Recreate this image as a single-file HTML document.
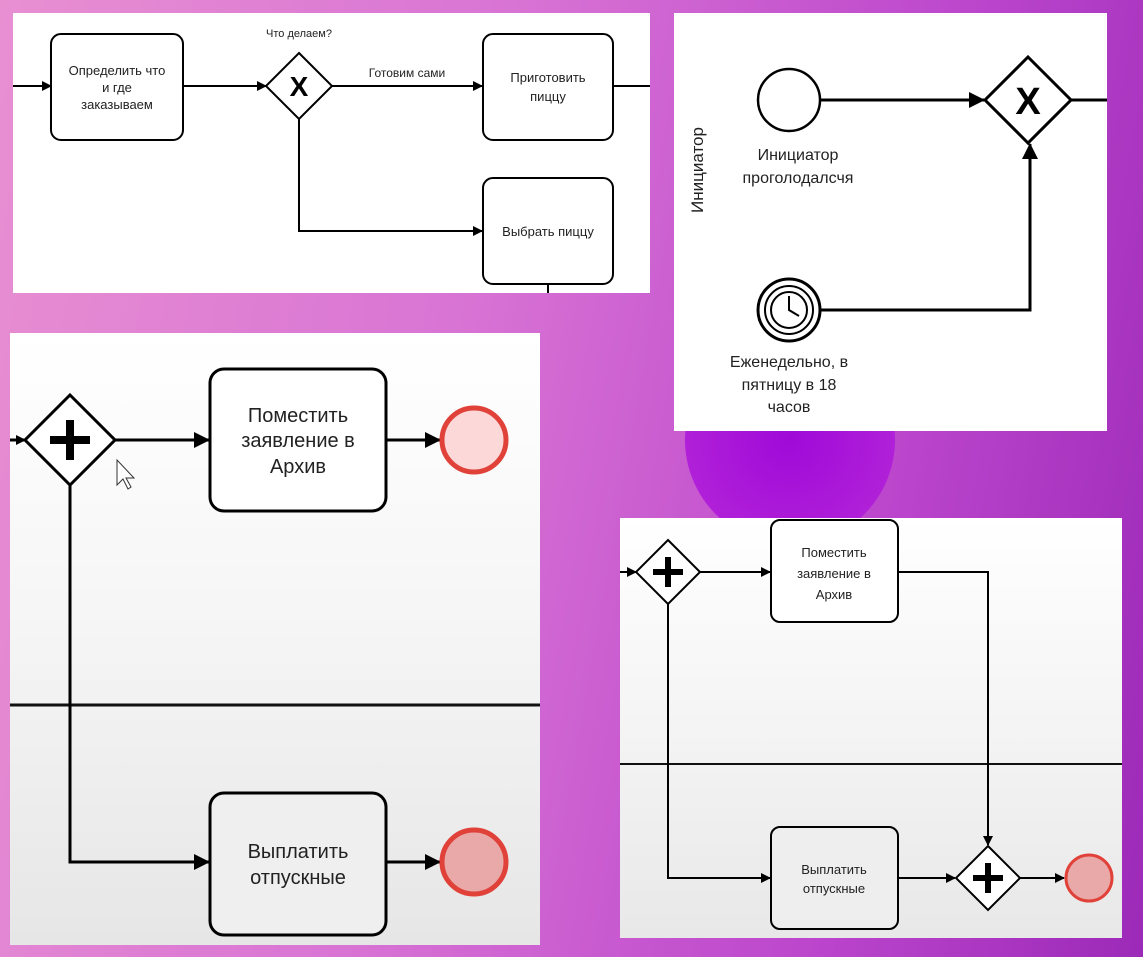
<!DOCTYPE html>
<html><head><meta charset="utf-8"><style>
html,body{margin:0;padding:0;width:1143px;height:957px;overflow:hidden}
body{background:linear-gradient(100deg,#e88fd2 0%,#d873d4 40%,#bb45cc 75%,#9c2ab8 100%)}
svg{position:absolute;left:0;top:0}
text{font-family:"Liberation Sans","Noto Sans CJK SC",sans-serif;fill:#222;text-anchor:middle}
</style></head><body>
<svg width="1143" height="957" viewBox="0 0 1143 957">
<defs>
<marker id="a" markerWidth="10" markerHeight="10" refX="9" refY="5" orient="auto" markerUnits="userSpaceOnUse"><path d="M0,0 L10,5 L0,10z" fill="#000"/></marker>
<marker id="b" markerWidth="16" markerHeight="16" refX="15" refY="8" orient="auto" markerUnits="userSpaceOnUse"><path d="M0,0 L16,8 L0,16z" fill="#000"/></marker>
<linearGradient id="lg3" x1="0" y1="0" x2="0" y2="1"><stop offset="0" stop-color="#fff"/><stop offset="0.45" stop-color="#f6f6f6"/><stop offset="1" stop-color="#e6e6e6"/></linearGradient>
<linearGradient id="lg4" x1="0" y1="0" x2="0" y2="1"><stop offset="0" stop-color="#fff"/><stop offset="0.5" stop-color="#f4f4f4"/><stop offset="1" stop-color="#e8e8e8"/></linearGradient>
<radialGradient id="pc"><stop offset="0" stop-color="#a00ad8"/><stop offset="1" stop-color="#b020d8"/></radialGradient>
</defs>
<circle cx="790" cy="440" r="105" fill="url(#pc)"/>

<!-- Panel 1 -->
<rect x="13" y="13" width="637" height="280" fill="#fff"/>
<g stroke="#000" stroke-width="2" fill="none">
<line x1="13" y1="86" x2="51" y2="86" marker-end="url(#a)"/>
<rect x="51" y="34" width="132" height="106" rx="10"/>
<line x1="183" y1="86" x2="266" y2="86" marker-end="url(#a)"/>
<path d="M299,53 L332,86 L299,119 L266,86z" fill="#fff"/>
<line x1="332" y1="86" x2="482" y2="86" marker-end="url(#a)"/>
<rect x="483" y="34" width="130" height="106" rx="10"/>
<line x1="613" y1="86" x2="650" y2="86"/>
<path d="M299,119 V231 H482" marker-end="url(#a)"/>
<rect x="483" y="178" width="130" height="106" rx="10"/>
<line x1="548" y1="284" x2="548" y2="293"/>
</g>
<text x="299" y="96" font-size="28" font-weight="bold" style="fill:#000">X</text>
<text x="299" y="37" font-size="11">Что делаем?</text>
<text x="407" y="77" font-size="12">Готовим сами</text>
<text x="117" y="75" font-size="13">Определить что</text>
<text x="117" y="92" font-size="13">и где</text>
<text x="117" y="109" font-size="13">заказываем</text>
<text x="548" y="82" font-size="13">Приготовить</text>
<text x="548" y="101" font-size="13">пиццу</text>
<text x="548" y="236" font-size="13">Выбрать пиццу</text>

<!-- Panel 2 -->
<rect x="674" y="13" width="433" height="418" fill="#fff"/>
<text transform="translate(703,170) rotate(-90)" font-size="17">Инициатор</text>
<g stroke="#000" stroke-width="3" fill="none">
<circle cx="789" cy="100" r="31" stroke-width="2.5"/>
<line x1="820" y1="100" x2="984" y2="100" marker-end="url(#b)"/>
<path d="M1028,57 L1071,100 L1028,143 L985,100z" fill="#fff"/>
<line x1="1071" y1="100" x2="1107" y2="100"/>
<circle cx="789" cy="310" r="31" stroke-width="3"/>
<circle cx="789" cy="310" r="24" stroke-width="2"/>
<circle cx="789" cy="310" r="18" stroke-width="2"/>
<path d="M789,296 V310 L799,316" stroke-width="2"/>
<path d="M820,310 H1030 V144" marker-end="url(#b)"/>
</g>
<text x="1028" y="114" font-size="38" font-weight="bold" style="fill:#000">X</text>
<text x="798" y="160" font-size="16">Инициатор</text>
<text x="798" y="183" font-size="16">проголодалсчя</text>
<text x="789" y="367" font-size="16">Еженедельно, в</text>
<text x="789" y="390" font-size="16">пятницу в 18</text>
<text x="789" y="412" font-size="16">часов</text>

<!-- Panel 3 -->
<rect x="10" y="333" width="530" height="612" fill="url(#lg3)"/>
<line x1="10" y1="705" x2="540" y2="705" stroke="#111" stroke-width="3"/>
<g stroke="#000" stroke-width="3" fill="none">
<line x1="10" y1="440" x2="25" y2="440" marker-end="url(#a)"/>
<path d="M70,395 L115,440 L70,485 L25,440z" fill="#fff"/>
<line x1="115" y1="440" x2="209" y2="440" marker-end="url(#b)"/>
<rect x="210" y="369" width="176" height="142" rx="14" fill="#fff"/>
<line x1="386" y1="440" x2="440" y2="440" marker-end="url(#b)"/>
<path d="M70,485 V862 H209" marker-end="url(#b)"/>
<rect x="210" y="793" width="176" height="142" rx="14" fill="#efefef"/>
<line x1="386" y1="862" x2="440" y2="862" marker-end="url(#b)"/>
</g>
<path d="M70,420 V460 M50,440 H90" stroke="#000" stroke-width="8"/>
<circle cx="474" cy="440" r="32" fill="#fcd8d8" stroke="#e0423a" stroke-width="5"/>
<circle cx="474" cy="862" r="32" fill="#eaa9a9" stroke="#e0423a" stroke-width="5"/>
<path d="M117,460 L117,485 L123,479 L128,489 L131,487 L126,478 L134,478z" fill="#fff" stroke="#333" stroke-width="1"/>
<text x="298" y="422" font-size="20">Поместить</text>
<text x="298" y="447" font-size="20">заявление в</text>
<text x="298" y="473" font-size="20">Архив</text>
<text x="298" y="858" font-size="20">Выплатить</text>
<text x="298" y="884" font-size="20">отпускные</text>

<!-- Panel 4 -->
<rect x="620" y="518" width="502" height="420" fill="url(#lg4)"/>
<line x1="620" y1="764" x2="1122" y2="764" stroke="#111" stroke-width="2"/>
<g stroke="#000" stroke-width="2" fill="none">
<line x1="620" y1="572" x2="636" y2="572" marker-end="url(#a)"/>
<path d="M668,540 L700,572 L668,604 L636,572z" fill="#fff"/>
<line x1="700" y1="572" x2="770" y2="572" marker-end="url(#a)"/>
<rect x="771" y="520" width="127" height="102" rx="9" fill="#fff"/>
<path d="M898,572 H988 V845" marker-end="url(#a)"/>
<path d="M668,604 V878 H770" marker-end="url(#a)"/>
<rect x="771" y="827" width="127" height="102" rx="9" fill="#eee"/>
<line x1="898" y1="878" x2="955" y2="878" marker-end="url(#a)"/>
<path d="M988,846 L1020,878 L988,910 L956,878z" fill="#fff"/>
<line x1="1020" y1="878" x2="1064" y2="878" marker-end="url(#a)"/>
</g>
<path d="M668,557 V587 M653,572 H683 M988,863 V893 M973,878 H1003" stroke="#000" stroke-width="6"/>
<circle cx="1089" cy="878" r="23" fill="#eaa9a9" stroke="#e0423a" stroke-width="3"/>
<text x="834" y="557" font-size="13">Поместить</text>
<text x="834" y="578" font-size="13">заявление в</text>
<text x="834" y="599" font-size="13">Архив</text>
<text x="834" y="874" font-size="13">Выплатить</text>
<text x="834" y="893" font-size="13">отпускные</text>
</svg>
</body></html>
